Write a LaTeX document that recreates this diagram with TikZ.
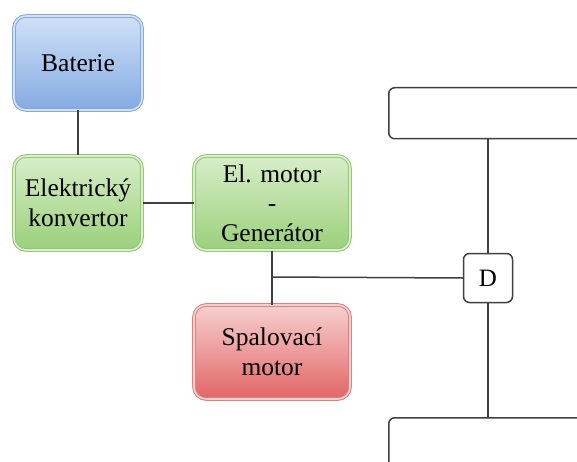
\documentclass[tikz,border=0pt]{standalone}
\usepackage{fontspec}
\setmainfont{Liberation Serif}
\newfontfamily\tnr{Liberation Serif}
\definecolor{blueT}{HTML}{D0E1F7}
\definecolor{blueB}{HTML}{84ABE2}
\definecolor{blueD}{HTML}{86A9DA}
\definecolor{blueL}{HTML}{D3E2F6}
\definecolor{greenT}{HTML}{D8EDC9}
\definecolor{greenB}{HTML}{9AD07A}
\definecolor{greenD}{HTML}{94C676}
\definecolor{greenL}{HTML}{DBEFCD}
\definecolor{redT}{HTML}{F7D0D0}
\definecolor{redB}{HTML}{E26565}
\definecolor{redD}{HTML}{D98282}
\definecolor{redL}{HTML}{F7CFCF}
\definecolor{lineC}{HTML}{404040}
\begin{document}
\begin{tikzpicture}[x=1pt,y=-1pt,
  box/.style={rounded corners=12pt, line width=1pt, double distance=1.6pt, minimum width=128pt, minimum height=94pt,
    align=center, font=\tnr\fontsize{25.5}{29.5}\selectfont, inner sep=0pt},
  bluebox/.style={box, draw=blueD, double=blueL, top color=blueT, bottom color=blueB},
  greenbox/.style={box, draw=greenD, double=greenL, top color=greenT, bottom color=greenB},
  redbox/.style={box, draw=redD, double=redL, top color=redT, bottom color=redB},
  plain/.style={draw=lineC, line width=1.5pt, rounded corners=6pt, fill=white, inner sep=0pt,
    font=\tnr\fontsize{25}{29}\selectfont},
  conn/.style={draw=lineC, line width=1.5pt}]
\clip (0,0) rectangle (577,462);
\fill[white] (0,0) rectangle (577,462);
\node[bluebox] (bat) at (78,63) {Baterie};
\node[greenbox] (konv) at (78,203) {Elektrický\\konvertor};
\node[greenbox, minimum width=156pt] (mot) at (272,203) {El. motor\\-\\Generátor};
\node[redbox, minimum width=156pt] (spal) at (272,352) {Spalovací\\motor};
\node[plain, minimum width=49pt, minimum height=49pt] (D) at (488,278) {D};
\node[plain, anchor=north west, minimum width=260pt, minimum height=51pt] (top) at (388,87) {};
\node[plain, anchor=north west, minimum width=260pt, minimum height=80pt] (bot) at (388,417) {};
\coordinate (j) at (272,277);
\draw[conn] (bat) -- (konv);
\draw[conn] (konv) -- (mot);
\draw[conn] (mot.south) -- (spal.north);
\draw[conn] (j) -- (D.west);
\draw[conn] (D.north |- top.south) -- (D.north);
\draw[conn] (D.south) -- (D.south |- bot.north);
\end{tikzpicture}
\end{document}
